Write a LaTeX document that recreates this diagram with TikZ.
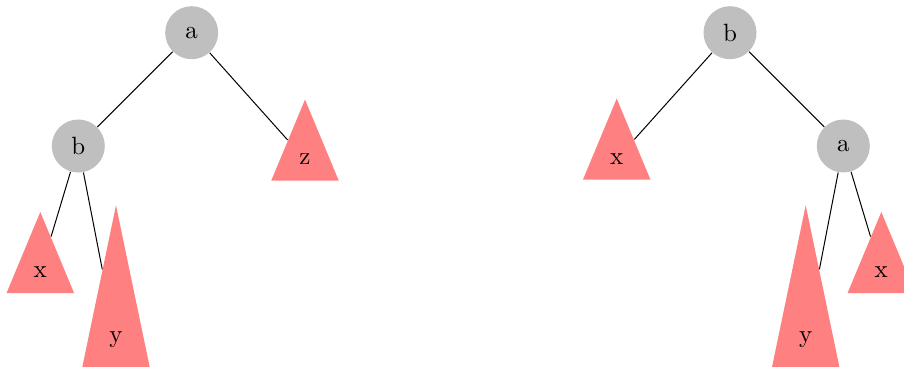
\documentclass[tikz,border=0pt]{standalone}
\usepackage{tikz}
\usetikzlibrary{shapes.geometric}

\begin{document}
\begin{tikzpicture}[
  x=0.4pt, y=-0.4pt,
  key/.style={circle, fill=black!25, minimum size=21.2pt, inner sep=0pt},
  subtree/.style={isosceles triangle, isosceles triangle stretches, shape border rotate=90, fill=red!50, minimum width=27pt, minimum height=32.4pt, inner sep=0pt, anchor=apex},
  tall/.style={subtree, minimum height=64.8pt},
  link/.style={thin}
]
\useasboundingbox (0,0) rectangle (904,366);

% before the rotation
\node[key] (a1) at (191.7,32.7) {a};
\node[key] (b1) at (78.3,146) {b};
\node[subtree] (z1) at (305,98.3) {z};
\node[subtree] (x1) at (40.3,210.7) {x};
\node[tall] (y1) at (116,204) {y};

\draw[link] (a1) -- (b1);
\draw[link] (a1) -- (z1);
\draw[link] (b1) -- (x1);
\draw[link] (b1) -- (y1);

% after the rotation
\node[key] (b2) at (730,32.7) {b};
\node[subtree] (x2) at (616.7,97.3) {x};
\node[key] (a2) at (843.3,146) {a};
\node[tall] (y2) at (805.7,204) {y};
\node[subtree] (x3) at (881.3,210.7) {x};

\draw[link] (b2) -- (x2);
\draw[link] (b2) -- (a2);
\draw[link] (a2) -- (y2);
\draw[link] (a2) -- (x3);
\end{tikzpicture}
\end{document}
